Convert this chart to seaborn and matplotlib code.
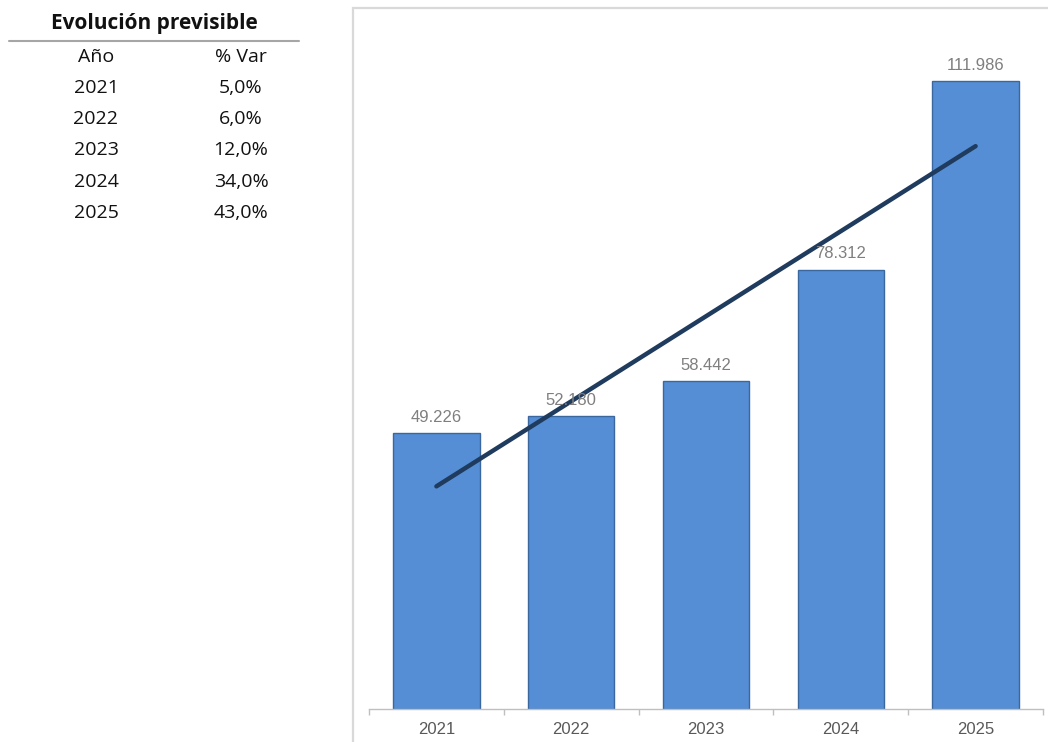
import numpy as np
import pandas as pd
import matplotlib
matplotlib.use("Agg")
import matplotlib.pyplot as plt
from matplotlib.patches import Rectangle
import seaborn as sns

# ---- data ----
years = ["2021", "2022", "2023", "2024", "2025"]
values = [49226, 52180, 58442, 78312, 111986]
pct_var = [5.0, 6.0, 12.0, 34.0, 43.0]
table_title = "Evolución previsible"
table_headers = ["Año", "% Var"]

sns.set_theme(style="white")
plt.rcParams["font.family"] = ["Liberation Sans", "DejaVu Sans"]

fig = plt.figure(figsize=(10.48, 7.42), dpi=100)
W, H = 1048, 742

def fx(px):
    return px / W

def fy(py):
    return 1 - py / H

# chart area border (extends past right/bottom edges)
fig.patches.append(Rectangle((fx(353), -0.2), 1.0, fy(8) + 0.2,
                             transform=fig.transFigure, fill=False,
                             edgecolor="#d9d9d9", linewidth=1.6, zorder=0))

ax = fig.add_axes([fx(369), fy(709), fx(1043) - fx(369), (709 - 36) / H])
ax.set_facecolor("none")

df = pd.DataFrame({"year": years, "value": values})
sns.barplot(data=df, x="year", y="value", color="#558ed5", saturation=1,
            width=0.64, edgecolor="#3a679f", linewidth=1.0, ax=ax, zorder=2)

# linear trend line
sns.regplot(x=np.arange(len(values)), y=np.array(values, dtype=float),
            scatter=False, ci=None, truncate=True, ax=ax,
            line_kws=dict(color="#1f3b5e", linewidth=3.2,
                          solid_capstyle="round", zorder=3))

labels = [f"{v:,}".replace(",", ".") for v in values]
ax.bar_label(ax.containers[0], labels=labels, padding=6, fontsize=12,
             color="#7f7f7f", family=["Liberation Sans", "DejaVu Sans"])

ax.set_xlim(-0.5, len(years) - 0.5)
ax.set_ylim(0, 120000)
ax.set_xlabel("")
ax.set_ylabel("")
ax.set_yticks([])
for s in ["left", "right", "top"]:
    ax.spines[s].set_visible(False)
ax.spines["bottom"].set_color("#bfbfbf")
ax.spines["bottom"].set_linewidth(1.0)
ax.set_xticks(np.arange(len(years)))
ax.set_xticklabels(years)
ax.set_xticks(np.arange(len(years) + 1) - 0.5, minor=True)
ax.tick_params(axis="x", which="major", length=0, pad=9, labelsize=12,
               labelcolor="#595959")
ax.tick_params(axis="x", which="minor", length=4, width=1.0, color="#bfbfbf",
               direction="out", bottom=True)

# ---- left table ----
tfont = ["Open Sans", "DejaVu Sans"]
fig.text(fx(154.5), fy(23), table_title, ha="center", va="center",
         fontsize=15, fontweight="bold", color="#111111", family=tfont)
fig.add_artist(plt.Line2D([fx(9), fx(299)], [fy(40.5), fy(40.5)],
                          transform=fig.transFigure, color="#a6a6a6",
                          linewidth=1.5))
row_y = [57, 88, 119, 150, 182, 213]
fs = 14
fig.text(fx(96), fy(row_y[0]), table_headers[0], ha="center", va="center",
         fontsize=fs, color="#111111", family=tfont)
fig.text(fx(241), fy(row_y[0]), table_headers[1], ha="center", va="center",
         fontsize=fs, color="#111111", family=tfont)
for i, (yr, p) in enumerate(zip(years, pct_var)):
    y = row_y[i + 1]
    fig.text(fx(96), fy(y), yr, ha="center", va="center", fontsize=fs,
             color="#111111", family=tfont)
    fig.text(fx(241), fy(y), f"{p:.1f}%".replace(".", ","), ha="center",
             va="center", fontsize=fs, color="#111111", family=tfont)

fig.savefig("out.png", dpi=100)
